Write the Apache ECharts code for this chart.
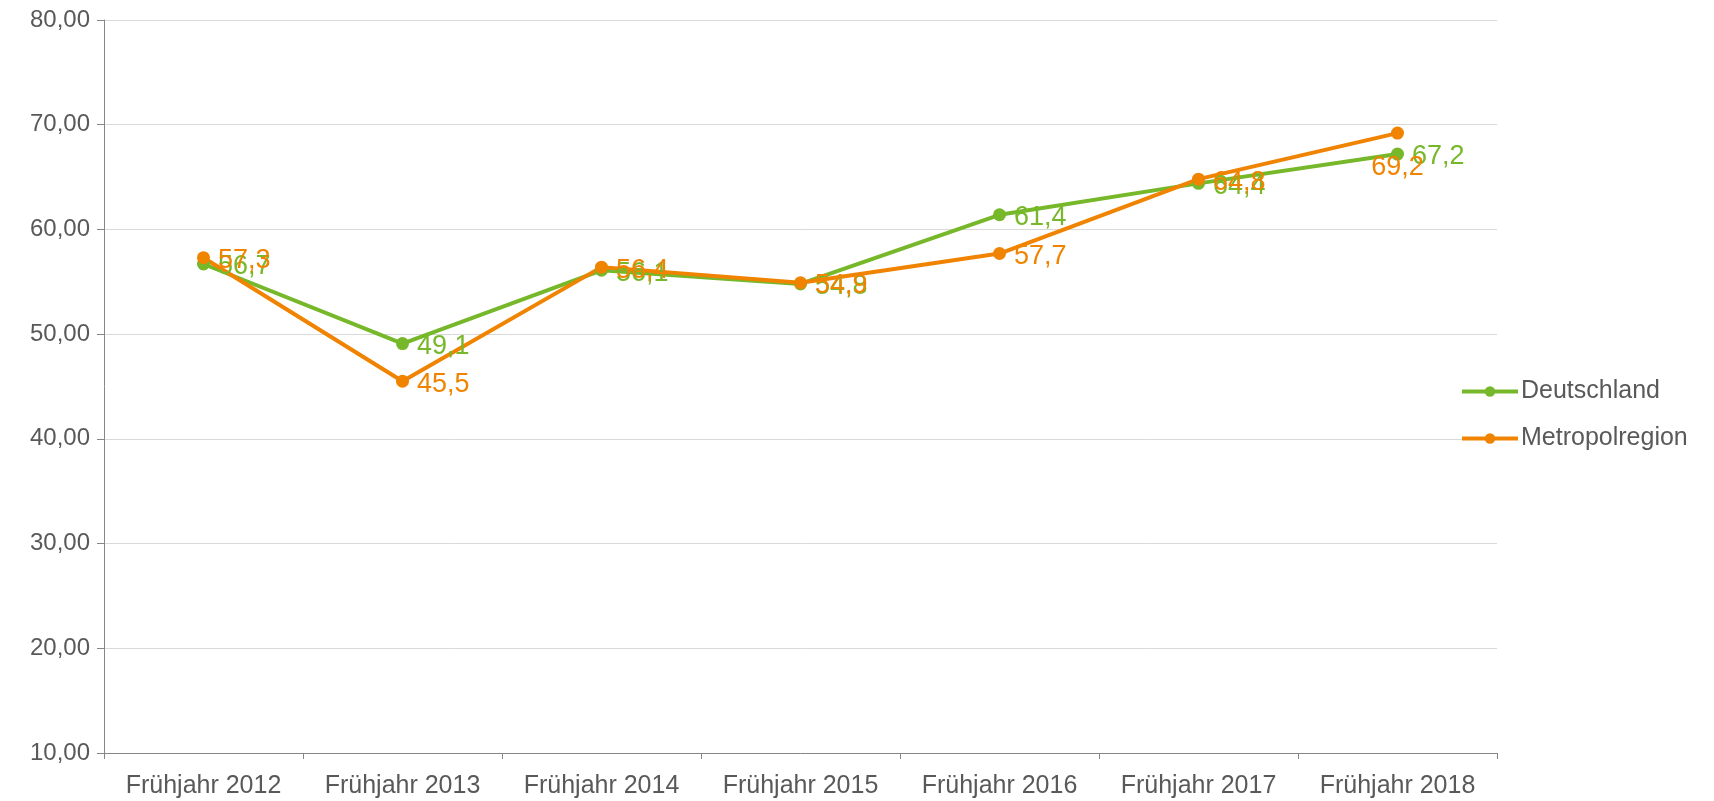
<!DOCTYPE html>
<html>
<head>
<meta charset="utf-8">
<script src="https://cdn.jsdelivr.net/npm/echarts@6/dist/echarts.min.js"></script>
<style>
  html, body { margin: 0; padding: 0; background: #fff; }
  #chart { width: 1714px; height: 801px; }
</style>
</head>
<body>
<div id="chart"></div>
<script>
// Kategorien und Werte
const categories = ['Frühjahr 2012', 'Frühjahr 2013', 'Frühjahr 2014', 'Frühjahr 2015', 'Frühjahr 2016', 'Frühjahr 2017', 'Frühjahr 2018']
const deutschland = [56.7, 49.1, 56.1, 54.8, 61.4, 64.4, 67.2]
const metropolregion = [57.3, 45.5, 56.4, 54.9, 57.7, 64.8, 69.2]

const green = '#76b82a'
const orange = '#f08300'
const font = 'Arial, "Liberation Sans", sans-serif'

const chart = echarts.init(document.getElementById('chart'))

const fmt = (v, d) => v.toFixed(d).replace('.', ',')

const makeSeries = (name, data, color, lastBelow) => ({
    name: name,
    type: 'line',
    // letzter Wert der Metropolregion: Beschriftung unter dem Punkt wie im Original
    data: data.map((v, i) => (lastBelow && i === data.length - 1)
        ? { value: v, label: { position: 'bottom', distance: 14, offset: [0, 0] } }
        : v),
    symbol: 'circle',
    symbolSize: 13,
    lineStyle: { color: color, width: 4 },
    itemStyle: { color: color },
    label: {
        show: true,
        position: 'right',
        distance: 8,
        offset: [0, 3],
        color: color,
        fontSize: 27,
        fontFamily: font,
        formatter: p => fmt(p.value, 1)
    }
})

const option = {
    animation: false,
    grid: { left: 104, right: 217, top: 20, bottom: 48 },
    legend: {
        orient: 'vertical',
        left: 1455,
        top: 374,
        itemGap: 22,
        itemWidth: 56,
        itemHeight: 13,
        lineStyle: { width: 4 },
        textStyle: { color: '#595959', fontSize: 25, fontFamily: font, padding: [0, 0, 0, -2] },
        data: ['Deutschland', 'Metropolregion']
    },
    xAxis: {
        type: 'category',
        data: categories,
        boundaryGap: true,
        axisLine: { lineStyle: { color: '#868686', width: 1 } },
        axisTick: { show: true, interval: 0, length: 6, lineStyle: { color: '#868686' } },
        axisLabel: { interval: 0, color: '#595959', fontSize: 25, fontFamily: font, margin: 21 }
    },
    yAxis: {
        type: 'value',
        min: 10,
        max: 80,
        interval: 10,
        axisLine: { show: true, lineStyle: { color: '#868686', width: 1 } },
        axisTick: { show: true, length: 7, lineStyle: { color: '#868686' } },
        splitLine: { lineStyle: { color: '#d9d9d9', width: 1 } },
        axisLabel: { color: '#595959', fontSize: 24, fontFamily: font, margin: 14, formatter: v => fmt(v, 2) }
    },
    series: [
        makeSeries('Deutschland', deutschland, green, false),
        makeSeries('Metropolregion', metropolregion, orange, true)
    ]
}

chart.setOption(option)
</script>
</body>
</html>
